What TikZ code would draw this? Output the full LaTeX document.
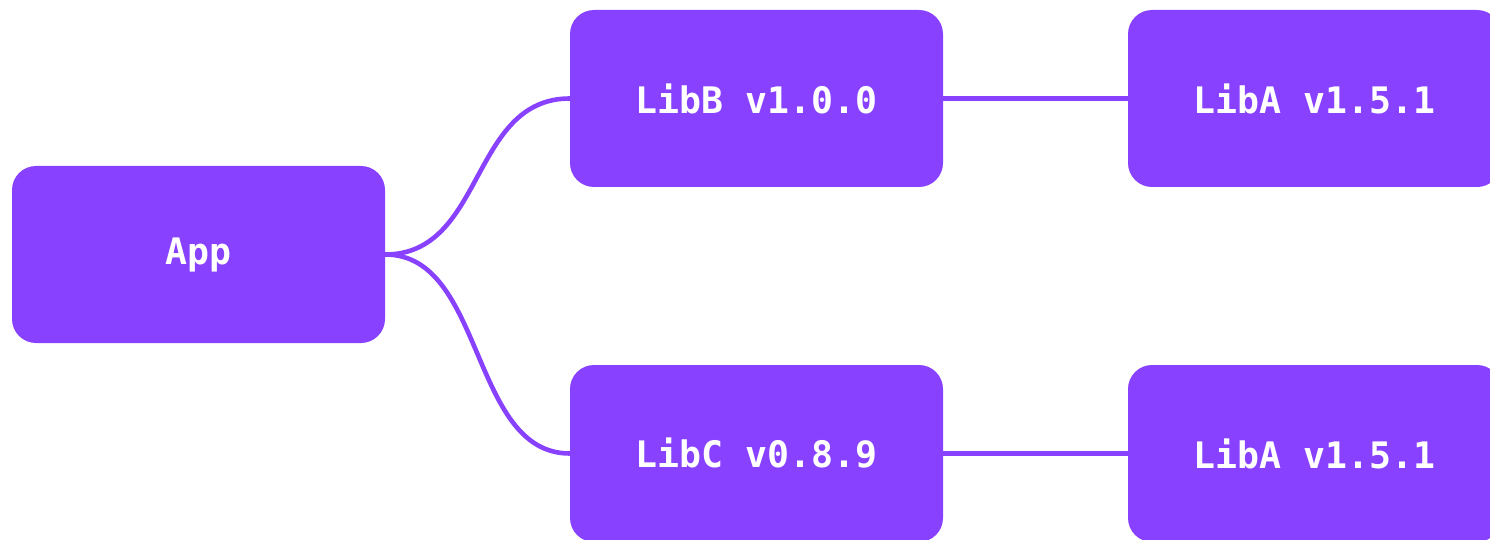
\documentclass[tikz,border=0pt]{standalone}
\usepackage{fontspec}
\setmonofont{DejaVu Sans Mono}
\definecolor{pkg}{HTML}{8842FF}
\begin{document}
\begin{tikzpicture}[x=1pt,y=-1pt,
  pkgbox/.style={fill=pkg, rounded corners=24pt, minimum width=373pt,
    minimum height=177pt, inner sep=0pt, text=white,
    font=\ttfamily\bfseries\fontsize{36.5}{40}\selectfont},
  dep/.style={draw=pkg, line width=4.6pt}]
  \useasboundingbox (0,0) rectangle (1490,540);
  % package boxes
  \node[pkgbox] (app)  at (198.5,254.5)  {App};
  \node[pkgbox] (libb) at (756.5,98.5)   {LibB v1.0.0};
  \node[pkgbox] (liba1) at (1314.5,98.5) {LibA v1.5.1};
  \node[pkgbox] (libc) at (756.5,453.5)  {LibC v0.8.9};
  \node[pkgbox] (liba2) at (1314.5,453.5) {LibA v1.5.1};
  % dependency links
  \draw[dep] (app.east) .. controls +(100,0) and +(-100,0) .. (libb.west);
  \draw[dep] (app.east) .. controls +(100,0) and +(-100,0) .. (libc.west);
  \draw[dep] (libb.east) -- (liba1.west);
  \draw[dep] (libc.east) -- (liba2.west);
\end{tikzpicture}
\end{document}
